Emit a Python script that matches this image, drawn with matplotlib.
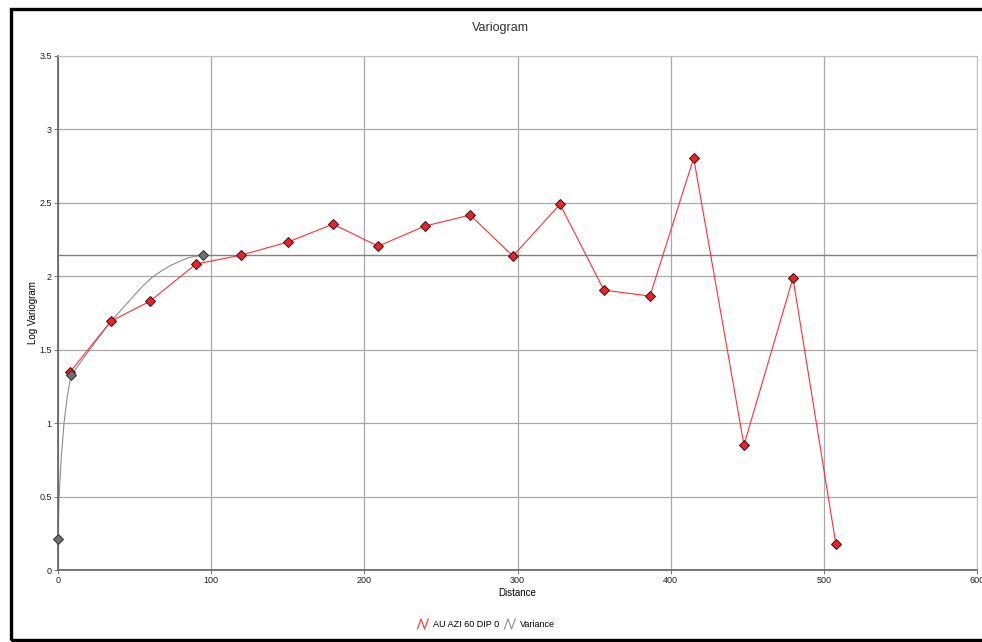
import numpy as np
import matplotlib
matplotlib.use("Agg")
import matplotlib.pyplot as plt
from matplotlib.lines import Line2D
from matplotlib.legend_handler import HandlerLine2D
from matplotlib.patches import Rectangle

plt.rcParams['font.family'] = ['Liberation Sans', 'DejaVu Sans']

#----------------------------------
# Datos
#----------------------------------

dist_exp = [7.8, 34.6, 60, 90, 119.5, 150, 179.5, 209, 239.5, 269, 297,
            327.7, 356.4, 386.4, 415, 447.8, 479.8, 507.8]
gam_exp = [1.348, 1.695, 1.83, 2.083, 2.144, 2.233, 2.355, 2.205, 2.342,
           2.417, 2.138, 2.49, 1.906, 1.865, 2.805, 0.851, 1.988, 0.177]

# curva del modelo
dist_mod = [0, 0.6, 2, 3.9, 6, 8.5, 11, 15, 20, 27, 35, 42, 48, 55, 61,
            68, 74, 80, 85, 90, 94.6]
gam_mod = [0.21, 0.48, 0.75, 1.0, 1.18, 1.327, 1.36, 1.42, 1.49, 1.59,
           1.70, 1.78, 1.85, 1.93, 1.99, 2.04, 2.076, 2.105, 2.126, 2.137,
           2.144]

dist_mod_pts = [0, 8.5, 94.6]
gam_mod_pts = [0.211, 1.327, 2.144]

sill = 2.144

#----------------------------------


class ZigZag(HandlerLine2D):
    def create_artists(self, legend, orig, xd, yd, w, h, fs, trans):
        xs = np.array([0.0, 0.33, 0.66, 1.0]) * w * 0.75 - xd
        ys = np.array([0.0, 1.0, 0.0, 1.0]) * h * 1.6 - yd - h * 0.3
        ln = Line2D(xs, ys, color=orig.get_color(), lw=0.8)
        ln.set_transform(trans)
        return [ln]


fig = plt.figure(figsize=(9.82, 6.42), dpi=100)
ax = fig.add_axes([0.0591, 0.1121, 0.9359, 0.8007])

ax.axhline(sill, color="#808080", lw=1.0, zorder=1)

l1, = ax.plot(dist_exp, gam_exp, color="#ff3030", lw=0.8, zorder=3,
              marker="D", ms=5.5, mfc="#e8242a", mec="#3a1010", mew=0.7,
              label="AU AZI 60 DIP 0")
l2, = ax.plot(dist_mod, gam_mod, color="#8c8c8c", lw=0.8, zorder=2,
              label="Variance")
ax.plot(dist_mod_pts, gam_mod_pts, ls="none", marker="D", ms=5.5,
        mfc="#707070", mec="#303030", mew=0.7, zorder=4, clip_on=False)

ax.set_xlim(0, 600)
ax.set_ylim(0, 3.5)
ax.set_xticks(np.arange(0, 601, 100))
ax.set_yticks(np.arange(0, 3.51, 0.5))
ax.set_yticklabels(["0", "0.5", "1", "1.5", "2", "2.5", "3", "3.5"])
ax.grid(True, color="#a8a8a8", lw=0.9)
ax.set_axisbelow(True)
ax.tick_params(labelsize=6.5, length=3, width=0.6, colors="#606060",
               labelcolor="#202020", pad=1.5)
for s in ["top", "right"]:
    ax.spines[s].set_color("#c0c0c0")
for s in ["left", "bottom"]:
    ax.spines[s].set_color("#606060")
    ax.spines[s].set_linewidth(1.2)

ax.set_xlabel("Distance", fontsize=7, labelpad=2)
ax.set_ylabel("Log Variogram", fontsize=7, labelpad=1)
fig.text(0.51, 0.956, "Variogram", ha="center", va="center", fontsize=9,
         color="#303030")

fig.legend(handles=[l1, l2], loc="center", bbox_to_anchor=(0.495, 0.027),
           ncol=2, frameon=False, fontsize=6.5, handlelength=1.6,
           handletextpad=0.1, columnspacing=0.6,
           handler_map={Line2D: ZigZag()})

fig.patches.append(Rectangle((0.0115, 0.003), 1.2, 0.983,
                             transform=fig.transFigure, fill=False,
                             ec="black", lw=2.4))

fig.savefig("out.png", dpi=100)
